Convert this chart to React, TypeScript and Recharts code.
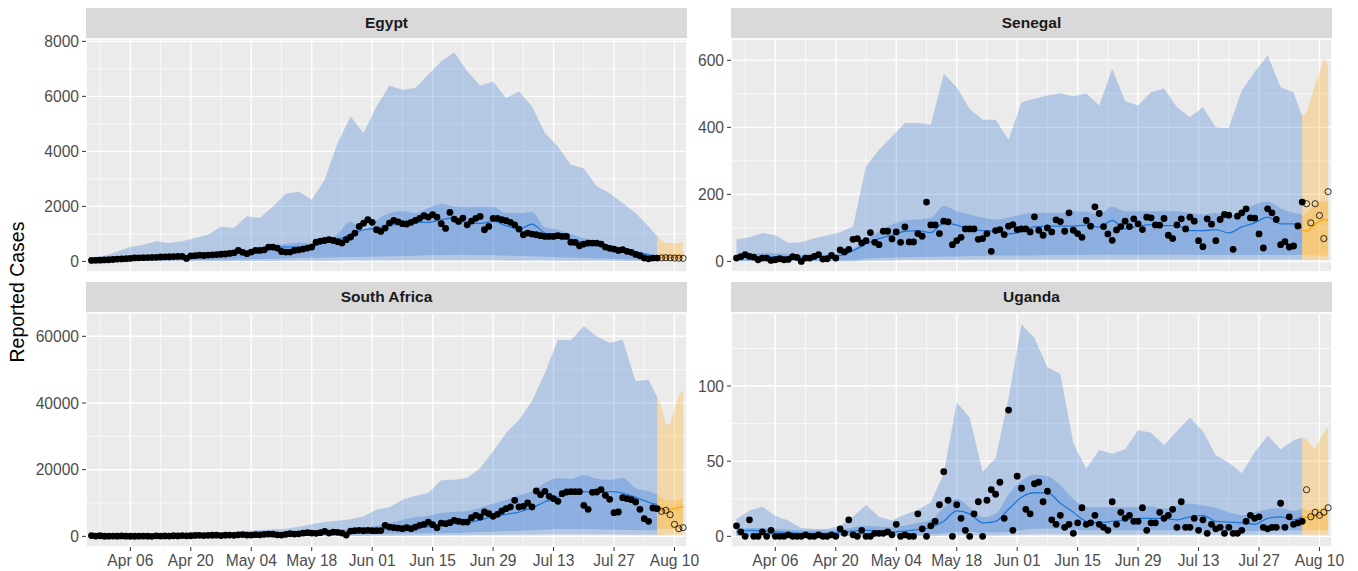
import React from "react";
import { ComposedChart, Area, Line, Scatter, XAxis, YAxis, CartesianGrid } from "recharts";

// day 0 = Mar 28; observed days 0..131, forecast days 132..137
const ribbonDays = [0, 3, 6, 9, 12, 15, 18, 21, 24, 27, 30, 33, 36, 39, 42, 45, 48, 51, 54, 57, 60, 63, 66, 69, 72, 75, 78, 81, 84, 87, 90, 93, 96, 99, 102, 105, 108, 111, 114, 117, 120, 123, 126, 129, 131];
const forecastDays = [131, 132, 133, 134, 135, 136, 137];
const firstForecastPoint = 132;

const majorDays = [9, 23, 37, 51, 65, 79, 93, 107, 121, 135];
const majorLabels = ["Apr 06", "Apr 20", "May 04", "May 18", "Jun 01", "Jun 15", "Jun 29", "Jul 13", "Jul 27", "Aug 10"];
const minorDays = [2, 16, 30, 44, 58, 72, 86, 100, 114, 128];

// ---- Egypt ----
const egyptObs = [
  35, 40, 45, 55, 60, 70, 85, 90, 100, 110,
  125, 130, 135, 140, 145, 150, 160, 165, 170, 175, 180, 185,
  110, 200, 210, 225, 215, 230, 240, 250, 260, 270, 290, 310, 400,
  330, 280, 340, 400, 400, 420, 520, 520, 485, 360, 340, 340, 400, 420, 450, 485, 520, 700, 740, 760, 790, 760, 715, 670, 790, 885, 1030, 1270, 1390, 1515, 1420, 1150, 1090, 1210, 1395, 1490, 1440,
  1370, 1360, 1420, 1490, 1565, 1660, 1610, 1700, 1610, 1370, 1200, 1780, 1540, 1455, 1575, 1330, 1465, 1565, 1635, 1150, 1270, 1565, 1565, 1515, 1480, 1420, 1330, 1175, 970, 1030, 995, 970, 935, 910, 910, 910, 935, 910, 910, 700, 690, 570, 630, 665, 665, 665, 630, 520, 475, 450, 400, 425, 365, 330, 255, 205, 120, 95, 120, 120,
];
const egyptFuture = [125, 130, 125, 120, 115, 110];
const egyptHi90 = [150, 205, 360, 520, 605, 730, 665, 730, 850, 970, 1270, 1210, 1640, 1575, 2000, 2460, 2545, 2240, 2970, 4300, 5270, 4670, 5640, 6390, 6240, 6300, 6790, 7270, 7600, 6910, 6390, 6540, 5940, 6180, 5640, 4670, 4180, 3510, 3390, 2730, 2480, 2120, 1760, 1270, 910];
const egyptHi50 = [60, 70, 90, 110, 130, 150, 170, 190, 220, 250, 300, 340, 400, 460, 560, 640, 690, 650, 700, 1000, 1450, 1100, 1500, 1750, 1820, 1760, 1940, 2100, 2000, 1980, 2000, 1980, 1760, 1760, 1800, 1240, 1150, 1000, 850, 740, 600, 500, 400, 300, 180];
const egyptMid = [35, 50, 80, 100, 125, 145, 165, 180, 200, 225, 255, 300, 330, 400, 480, 530, 520, 540, 680, 780, 1000, 1150, 1200, 1330, 1350, 1420, 1420, 1515, 1580, 1390, 1380, 1455, 1300, 1175, 1350, 1030, 930, 790, 700, 605, 530, 450, 350, 240, 180];
const egyptLo50 = [10, 12, 15, 20, 25, 30, 35, 40, 45, 50, 60, 70, 80, 90, 100, 110, 120, 130, 140, 150, 160, 170, 180, 190, 200, 210, 220, 225, 230, 230, 225, 220, 210, 200, 190, 170, 150, 140, 125, 110, 95, 80, 70, 55, 45];
const egyptLo90 = [0, 0, 2, 3, 4, 5, 6, 7, 8, 9, 10, 12, 14, 16, 18, 20, 22, 24, 26, 28, 30, 32, 34, 36, 38, 40, 40, 40, 40, 40, 40, 38, 36, 34, 32, 30, 28, 26, 24, 22, 20, 18, 16, 14, 12];
const egyptFcHi90 = [910, 760, 680, 665, 665, 670, 700];
const egyptFcHi50 = [200, 260, 265, 265, 270, 270, 275];
const egyptFcMid = [150, 150, 150, 148, 148, 148, 150];
const egyptFcLo50 = [60, 70, 70, 70, 70, 70, 70];
const egyptFcLo90 = [15, 20, 20, 20, 20, 20, 20];

// ---- Senegal ----
const senegalObs = [
  10, 14, 20, 15, 13, 5, 10, 10, 3, 5, 8, 5, 6, 14, 12, 0, 10, 10, 15, 20,
  7, 8, 18, 10, 34, 28, 36, 66, 68, 55, 62, 86, 57, 50, 90, 90, 67, 88, 57, 103,
  58, 58, 83, 75, 177, 109, 109, 83, 120, 118, 50, 62, 72, 97, 97, 97, 66, 68, 83, 30,
  92, 95, 80, 105, 110, 95, 97, 97, 88,
  133, 93, 78, 100, 88, 124, 119, 90, 145, 93, 83, 72, 122, 105, 163, 143, 104, 82, 63, 94,
  104, 120, 104, 127, 112, 95, 132, 130, 109, 108, 128, 78, 68, 109, 127, 97, 132, 120, 62, 44,
  127, 111, 62, 125, 140, 138, 36, 135, 145, 157, 130, 129, 82, 40, 157, 145, 125, 50, 59, 43,
  46, 106, 177,
];
const senegalFuture = [172, 115, 172, 137, 68, 208];
const senegalHi90 = [65, 72, 85, 78, 55, 57, 69, 77, 87, 104, 284, 333, 373, 413, 413, 408, 560, 520, 455, 423, 423, 363, 475, 485, 495, 502, 492, 502, 465, 575, 478, 465, 505, 517, 460, 430, 460, 400, 398, 510, 565, 615, 520, 505, 433];
const senegalHi50 = [22, 22, 25, 24, 22, 20, 20, 21, 22, 38, 65, 90, 110, 122, 125, 130, 165, 150, 140, 130, 125, 130, 140, 145, 145, 145, 150, 148, 140, 163, 150, 150, 150, 150, 150, 145, 140, 145, 135, 152, 170, 178, 158, 145, 140];
const senegalMid = [12, 13, 14, 14, 13, 13, 14, 15, 18, 32, 52, 68, 78, 90, 92, 86, 115, 108, 96, 92, 90, 82, 88, 103, 105, 105, 106, 108, 102, 122, 97, 105, 110, 107, 107, 92, 92, 95, 85, 103, 115, 132, 112, 112, 100];
const senegalLo50 = [2, 2, 2, 2, 2, 2, 2, 3, 3, 4, 8, 10, 12, 12, 13, 14, 15, 15, 16, 16, 18, 18, 18, 18, 19, 19, 19, 20, 20, 20, 20, 20, 20, 20, 20, 20, 19, 19, 19, 19, 19, 19, 19, 19, 19];
const senegalLo90 = [0, 0, 0, 0, 0, 0, 0, 0, 0, 0, 2, 3, 3, 4, 4, 4, 5, 5, 5, 5, 5, 5, 5, 5, 5, 5, 5, 5, 5, 5, 5, 5, 5, 5, 5, 5, 5, 5, 5, 5, 5, 5, 5, 5, 5];
const senegalFcHi90 = [433, 445, 485, 525, 565, 607, 585];
const senegalFcHi50 = [135, 145, 158, 170, 178, 180, 175];
const senegalFcMid = [93, 90, 100, 110, 120, 125, 122];
const senegalFcLo50 = [19, 18, 18, 18, 18, 18, 18];
const senegalFcLo90 = [5, 5, 5, 5, 5, 5, 5];

// ---- South Africa ----
const southAfricaObs = [
  240, 90, 190, 30, 70, 80, 45, 120, 60, 30, 40, 65, 100, 70, 25, 150, 100, 140, 90, 180,
  130, 250, 170, 190, 270, 320, 250, 300, 330, 350, 250, 350, 400, 300, 450, 550, 400,
  400, 500, 450, 600, 700, 650, 450, 400, 600, 800, 700, 750, 1000, 1100,
  1000, 900, 1100, 1500, 1000, 1300, 1200, 1000, 400,
  1600, 1700, 1800, 1700, 1800, 1700, 1700, 1750,
  3300, 2800, 2600, 2500, 2300, 2600, 2300, 2800, 3300, 3600, 4300, 3500, 2600, 4000, 3800, 4100, 4800, 4500, 4300, 4300,
  5600, 6300, 5800, 7300, 6800, 6000, 6600, 7600, 8300, 8800, 10800, 8800, 9000, 10000, 8800, 13600, 12500, 13500, 12000, 11300,
  10500, 12800, 13300, 13400, 13400, 13400, 9300, 8100, 13200, 13300, 14000, 12300, 11100, 7100, 7300, 11600, 11300, 11000, 10300, 8100,
  5300, 4500, 8500, 8300,
];
const southAfricaFuture = [7500, 7800, 6500, 3600, 2300, 2600];
const southAfricaHi90 = [300, 300, 300, 300, 350, 400, 450, 500, 600, 700, 900, 1400, 1700, 1900, 2100, 2300, 2900, 3600, 4300, 4700, 5100, 6000, 8000, 8700, 11000, 12200, 13000, 16800, 17000, 17500, 20500, 25500, 31000, 35000, 40500, 49000, 59000, 58800, 63000, 60000, 58000, 59000, 46500, 47000, 41800];
const southAfricaHi50 = [100, 100, 100, 100, 120, 150, 180, 200, 250, 300, 350, 500, 600, 700, 800, 900, 1100, 1400, 1700, 1900, 2100, 2400, 3200, 4000, 5000, 5800, 6200, 7000, 7400, 7600, 8600, 9800, 11000, 12300, 13500, 16000, 17500, 17200, 18300, 17300, 17000, 17500, 14500, 13500, 12500];
const southAfricaMid = [120, 110, 90, 80, 80, 100, 120, 160, 220, 280, 320, 370, 420, 480, 560, 620, 750, 900, 1100, 1250, 1450, 1700, 2000, 2300, 2300, 2600, 2950, 3400, 3800, 4100, 4900, 5900, 6600, 7300, 8600, 10300, 11800, 12800, 13400, 13300, 13400, 13000, 11700, 10200, 9600];
const southAfricaLo50 = [30, 30, 30, 30, 30, 40, 40, 50, 60, 70, 80, 100, 120, 140, 160, 180, 300, 350, 400, 450, 500, 550, 650, 750, 800, 850, 900, 950, 1000, 1100, 1300, 1400, 1600, 1700, 1800, 2000, 2200, 2200, 2200, 2100, 2000, 2000, 1900, 1800, 1800];
const southAfricaLo90 = [0, 0, 0, 0, 0, 0, 0, 0, 10, 10, 20, 20, 30, 30, 40, 50, 60, 70, 80, 90, 100, 120, 150, 180, 200, 230, 260, 300, 330, 360, 400, 430, 460, 500, 520, 540, 560, 560, 560, 550, 540, 520, 500, 480, 450];
const southAfricaFcHi90 = [41800, 38800, 33300, 33800, 38300, 42300, 43800];
const southAfricaFcHi50 = [12500, 11500, 10800, 10600, 10800, 11000, 11300];
const southAfricaFcMid = [9000, 7800, 7900, 8100, 8300, 8600, 8800];
const southAfricaFcLo50 = [2200, 2300, 2300, 2200, 2200, 2200, 2200];
const southAfricaFcLo90 = [450, 450, 450, 450, 450, 450, 450];

// ---- Uganda ----
const ugandaObs = [
  7, 3, 0, 11, 0, 0, 3, 0, 4, 0, 0, 0, 1, 0, 0, 0, 1, 0, 0, 1,
  0, 0, 1, 0, 5, 2, 11, 1, 0, 4, 0, 0, 2, 2, 2, 3, 1,
  8, 0, 1, 0, 0, 15, 5, 0, 7, 10, 21, 43, 24, 0, 21, 12, 4, 0, 15, 23, 0, 24, 31, 28, 36, 12, 84, 4, 40, 32, 18, 15,
  35, 36, 23, 30, 11, 8, 14, 6, 8, 2, 9, 19, 8, 9, 14, 8, 6, 4, 23, 8,
  16, 12, 14, 10, 10, 19, 4, 9, 9, 16, 12, 14, 18, 6, 23, 6, 6, 12, 4, 11,
  2, 8, 5, 6, 2, 6, 2, 2, 4, 10, 14, 12, 13, 6, 5, 6, 6, 22, 6, 13,
  8, 9, 10,
];
const ugandaFuture = [31, 13, 16, 14, 16, 19];
const ugandaHi90 = [11.6, 17, 19.8, 13.5, 10.5, 5.6, 4.9, 4.9, 7, 13, 21, 13, 10.5, 14.5, 17.5, 22.7, 42, 89, 79, 43, 52, 92, 141, 132, 112.5, 108, 62, 45, 57.5, 55, 58, 70.6, 69, 60.6, 70, 79, 70, 54, 49, 42, 56, 67, 58, 64, 65.7];
const ugandaHi50 = [5, 5.5, 5.5, 5, 4.5, 4, 4, 4, 4.5, 6, 7, 6.5, 6, 7, 9, 11, 19, 25, 19, 12.7, 15, 28, 37, 41, 40, 34, 25, 19.4, 19.4, 19.4, 19.4, 19.5, 19.8, 18.3, 20.5, 21.6, 20.5, 19, 16, 14, 16, 18, 18.9, 17, 18.3];
const ugandaMid = [3, 4, 3.5, 3, 2.5, 2, 2, 2, 2.5, 3.5, 4, 3.5, 3, 3.5, 4.5, 6, 10, 17, 15, 9, 10, 18, 26, 29, 29, 22, 16, 10, 9, 10, 11, 12, 12, 12, 11, 13, 14, 10, 9.5, 9, 8, 12, 13, 11, 13];
const ugandaLo50 = [0.5, 0.5, 0.5, 0.5, 0.5, 0.5, 0.5, 0.5, 0.5, 0.8, 1, 1, 1, 1, 1.2, 1.5, 2, 3, 3, 2.5, 2.5, 3, 4, 5, 5, 5, 4.5, 4, 4, 4, 4, 4, 4, 4, 4, 4, 4, 4, 3.8, 3.5, 3.5, 3.8, 4, 4, 4];
const ugandaLo90 = [0, 0, 0, 0, 0, 0, 0, 0, 0, 0, 0, 0, 0, 0, 0, 0.2, 0.5, 0.8, 0.8, 0.5, 0.5, 0.8, 1, 1.2, 1.2, 1.2, 1, 1, 1, 1, 1, 1, 1, 1, 1, 1, 1, 1, 1, 1, 1, 1, 1, 1, 1];
const ugandaFcHi90 = [65.7, 64.5, 61, 58, 64, 69, 73];
const ugandaFcHi50 = [18.3, 17.5, 17.5, 18, 18.5, 19, 20];
const ugandaFcMid = [13.5, 12.5, 13, 13.5, 14, 14.5, 15.5];
const ugandaFcLo50 = [4, 4, 4, 4, 4, 4, 4];
const ugandaFcLo90 = [1, 1, 1, 1, 1, 1, 1];

const FONT = '"Liberation Sans", Arial, Helvetica, sans-serif';
const X_DOMAIN: [number, number] = [-1.27, 137.9];
const PLOT_W = 601;
const RIGHT_PAD = 20; // room for the last date label
const TOP_PAD = 10; // room for the top tick label
const BLUE = "#3476D4";
const ORANGE = "#FFA812";

const bands = (days: number[], lo90: number[], lo50: number[], mid: number[], hi50: number[], hi90: number[]) =>
  days.map((day, i) => ({ day, outer: [lo90[i], hi90[i]], inner: [lo50[i], hi50[i]], mid: mid[i] }));

const points = (firstDay: number, values: number[]) => values.map((value, i) => ({ day: firstDay + i, value }));

const dotShape = (p: any) => <circle cx={p.cx} cy={p.cy} r={3.4} fill="#000000" />;
const ringShape = (p: any) => <circle cx={p.cx} cy={p.cy} r={3.1} fill="none" stroke="#000000" strokeWidth={0.8} />;

type PanelSpec = {
  title: string;
  domain: [number, number];
  ticks: number[];
  minor: number[];
  est: ReturnType<typeof bands>;
  fc: ReturnType<typeof bands>;
  obs: { day: number; value: number }[];
  future: { day: number; value: number }[];
};

const panels: PanelSpec[] = [
  {
    title: "Egypt", domain: [-385, 8085], ticks: [0, 2000, 4000, 6000, 8000], minor: [1000, 3000, 5000, 7000],
    est: bands(ribbonDays, egyptLo90, egyptLo50, egyptMid, egyptHi50, egyptHi90),
    fc: bands(forecastDays, egyptFcLo90, egyptFcLo50, egyptFcMid, egyptFcHi50, egyptFcHi90),
    obs: points(0, egyptObs), future: points(firstForecastPoint, egyptFuture),
  },
  {
    title: "Senegal", domain: [-31.6, 663.6], ticks: [0, 200, 400, 600], minor: [100, 300, 500],
    est: bands(ribbonDays, senegalLo90, senegalLo50, senegalMid, senegalHi50, senegalHi90),
    fc: bands(forecastDays, senegalFcLo90, senegalFcLo50, senegalFcMid, senegalFcHi50, senegalFcHi90),
    obs: points(0, senegalObs), future: points(firstForecastPoint, senegalFuture),
  },
  {
    title: "South Africa", domain: [-3190, 66990], ticks: [0, 20000, 40000, 60000], minor: [10000, 30000, 50000],
    est: bands(ribbonDays, southAfricaLo90, southAfricaLo50, southAfricaMid, southAfricaHi50, southAfricaHi90),
    fc: bands(forecastDays, southAfricaFcLo90, southAfricaFcLo50, southAfricaFcMid, southAfricaFcHi50, southAfricaFcHi90),
    obs: points(0, southAfricaObs), future: points(firstForecastPoint, southAfricaFuture),
  },
  {
    title: "Uganda", domain: [-7.1, 148.6], ticks: [0, 50, 100], minor: [25, 75, 125],
    est: bands(ribbonDays, ugandaLo90, ugandaLo50, ugandaMid, ugandaHi50, ugandaHi90),
    fc: bands(forecastDays, ugandaFcLo90, ugandaFcLo50, ugandaFcMid, ugandaFcHi50, ugandaFcHi90),
    obs: points(0, ugandaObs), future: points(firstForecastPoint, ugandaFuture),
  },
];

const layout = [
  { left: 0, top: 39, axisW: 86, height: 233, stripTop: 8, showX: false },
  { left: 686, top: 39, axisW: 45, height: 233, stripTop: 8, showX: false },
  { left: 0, top: 313, axisW: 86, height: 234, stripTop: 282, showX: true },
  { left: 686, top: 313, axisW: 45, height: 234, stripTop: 282, showX: true },
];

const tickText = { fill: "#4D4D4D", fontSize: 15.6, fontFamily: FONT };

function Panel({ spec, pos }: { spec: PanelSpec; pos: (typeof layout)[number] }) {
  const xh = pos.showX ? 28 : 0;
  return (
    <>
      <div
        style={{
          position: "absolute", left: pos.left + pos.axisW, top: pos.stripTop, width: PLOT_W, height: 30.5,
          background: "#D9D9D9", color: "#1A1A1A", fontFamily: FONT, fontWeight: 700, fontSize: 15.5,
          display: "flex", alignItems: "center", justifyContent: "center",
        }}
      >
        {spec.title}
      </div>
      <div style={{ position: "absolute", left: pos.left, top: pos.top - TOP_PAD }}>
        <ComposedChart
          width={pos.axisW + PLOT_W + RIGHT_PAD}
          height={TOP_PAD + pos.height + xh}
          margin={{ top: TOP_PAD, right: RIGHT_PAD, bottom: 0, left: 0 }}
        >
          <XAxis xAxisId="mn" dataKey="day" type="number" domain={X_DOMAIN} ticks={minorDays} allowDataOverflow hide />
          <YAxis yAxisId="mn" type="number" domain={spec.domain} ticks={spec.minor} allowDataOverflow hide />
          <CartesianGrid xAxisId="mn" yAxisId="mn" fill="#EBEBEB" stroke="#FFFFFF" strokeWidth={0.7} />
          <XAxis
            dataKey="day" type="number" domain={X_DOMAIN} ticks={majorDays} allowDataOverflow hide={!pos.showX}
            height={xh} axisLine={false} tickSize={4} tickMargin={4} tickLine={{ stroke: "#333333" }}
            tick={tickText} interval={0} tickFormatter={(d: number) => majorLabels[majorDays.indexOf(d)] ?? ""}
          />
          <YAxis
            type="number" domain={spec.domain} ticks={spec.ticks} allowDataOverflow width={pos.axisW}
            axisLine={false} tickSize={4} tickMargin={3} tickLine={{ stroke: "#333333" }} tick={tickText} interval={0}
          />
          <CartesianGrid stroke="#FFFFFF" strokeWidth={1.4} />
          <Area data={spec.est} dataKey="outer" type="linear" stroke="none" fill={BLUE} fillOpacity={0.3} isAnimationActive={false} />
          <Area data={spec.est} dataKey="inner" type="monotone" stroke="none" fill={BLUE} fillOpacity={0.3} isAnimationActive={false} />
          <Line data={spec.est} dataKey="mid" type="monotone" stroke="#1F78D6" strokeWidth={1.3} dot={false} activeDot={false} isAnimationActive={false} />
          <Area data={spec.fc} dataKey="outer" type="linear" stroke="none" fill={ORANGE} fillOpacity={0.3} isAnimationActive={false} />
          <Area data={spec.fc} dataKey="inner" type="monotone" stroke="none" fill={ORANGE} fillOpacity={0.3} isAnimationActive={false} />
          <Line data={spec.fc} dataKey="mid" type="monotone" stroke="#FFA500" strokeWidth={1.3} dot={false} activeDot={false} isAnimationActive={false} />
          <Scatter data={spec.obs} dataKey="value" shape={dotShape} isAnimationActive={false} />
          <Scatter data={spec.future} dataKey="value" shape={ringShape} isAnimationActive={false} />
        </ComposedChart>
      </div>
    </>
  );
}

export default function App() {
  return (
    <div style={{ position: "absolute", left: 0, top: 0, width: 1358, height: 571, background: "#FFFFFF", overflow: "hidden" }}>
      {panels.map((p, i) => (
        <Panel key={p.title} spec={p} pos={layout[i]} />
      ))}
      <div
        style={{
          position: "absolute", left: 17, top: 292, transform: "translate(-50%, -50%) rotate(-90deg)",
          whiteSpace: "nowrap", fontFamily: FONT, fontSize: 19.5, color: "#000000",
        }}
      >
        Reported Cases
      </div>
    </div>
  );
}
